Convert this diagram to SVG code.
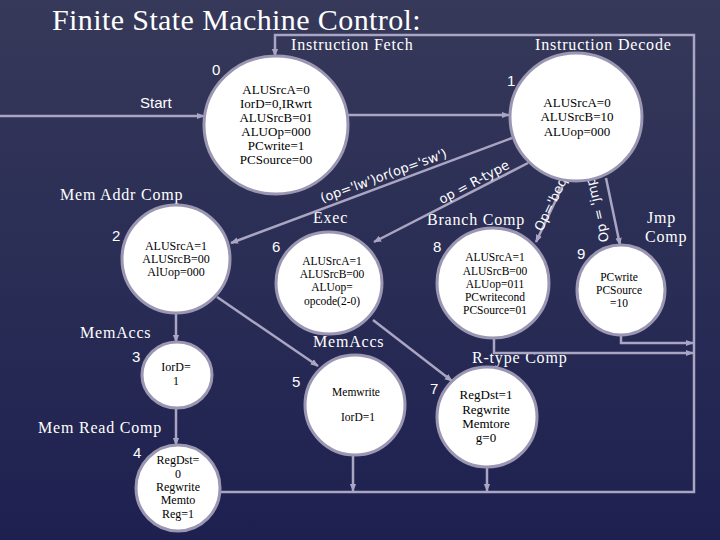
<svg xmlns="http://www.w3.org/2000/svg" width="720" height="540" viewBox="0 0 720 540">
<defs>
<linearGradient id="bg" x1="0" y1="0" x2="0" y2="1">
<stop offset="0" stop-color="#363959"/>
<stop offset="1" stop-color="#1e2150"/>
</linearGradient>
<marker id="arr" viewBox="0 0 10 10" refX="9" refY="5" markerWidth="8" markerHeight="8" markerUnits="userSpaceOnUse" orient="auto">
<path d="M0,1 L10,5 L0,9 Z" fill="#a9a5c2"/>
</marker>
<style>
.st{fill:#ffffff;stroke:#9b97b3;stroke-width:3}
.c{fill:none;stroke:#a9a5c2;stroke-width:2.5;marker-end:url(#arr)}
.t{font-family:"Liberation Serif",serif;fill:#000;text-anchor:middle}
.lbl{font-family:"Liberation Serif",serif;font-size:16px;letter-spacing:0.8px;fill:#fff}
.num{font-family:"Liberation Sans",sans-serif;font-size:15px;fill:#fff}
.cond{font-family:"DejaVu Sans",sans-serif;font-size:13px;fill:#fff}
</style>
</defs>
<rect width="720" height="540" fill="url(#bg)"/>
<text x="52" y="30" font-family="Liberation Serif, serif" font-size="30" letter-spacing="0.4" fill="#fff">Finite State Machine Control:</text>
<text class="lbl" x="291" y="50" font-size="15">Instruction Fetch</text>
<text class="lbl" x="535" y="50" font-size="15">Instruction Decode</text>
<text class="num" x="140" y="108">Start</text>
<text class="lbl" x="60" y="200">Mem Addr Comp</text>
<text class="lbl" x="313" y="223">Exec</text>
<text class="lbl" x="427" y="225">Branch Comp</text>
<text class="lbl" x="647" y="223">Jmp</text>
<text class="lbl" x="645" y="242">Comp</text>
<text class="lbl" x="80" y="338">MemAccs</text>
<text class="lbl" x="313" y="347">MemAccs</text>
<text class="lbl" x="472" y="363">R-type Comp</text>
<text class="lbl" x="38" y="433">Mem Read Comp</text>

<g id="connectors">
<path class="c" d="M0,116 H204"/>
<path class="c" d="M221,492 H694 V35 H275 V56"/>
<path class="c" d="M348,115 H509"/>
<path class="c" d="M512,138 L231,243"/>
<path class="c" d="M528,163 L374,242"/>
<path class="c" d="M563,185 L536,242"/>
<path class="c" d="M606,178 L620,245"/>
<path class="c" d="M176,313 V342"/>
<path class="c" d="M176,408 V445"/>
<path class="c" d="M217,297 L318,366"/>
<path class="c" d="M373,320 L452,381"/>
<path class="c" d="M353,455 V491"/>
<path class="c" d="M487,467 V491"/>
<path class="c" d="M494,338 V353 H693"/>
<path class="c" d="M621,335 V343 H693"/>
<text class="cond" x="385" y="180" text-anchor="middle" transform="rotate(-20 385 180)">(op='lw')or(op='sw')</text>
<text class="cond" x="476" y="186" text-anchor="middle" transform="rotate(-28 476 186)">op = R-type</text>
<text class="cond" x="542" y="232" transform="rotate(-64 542 232)">Op='beq</text>
<text class="cond" x="609" y="241" transform="rotate(-103 609 241)">Op = 'jmp'</text>
</g>

<g id="s0">
<ellipse class="st" cx="276" cy="125" rx="72" ry="69"/>
<text class="num" x="212" y="75">0</text>
<text class="t" font-size="13"><tspan x="276" y="94">ALUSrcA=0</tspan><tspan x="276" y="108">IorD=0,IRwrt</tspan><tspan x="276" y="122">ALUSrcB=01</tspan><tspan x="276" y="136">ALUOp=000</tspan><tspan x="276" y="150">PCwrite=1</tspan><tspan x="276" y="164">PCSource=00</tspan></text>
</g>
<g id="s1">
<ellipse class="st" cx="576" cy="117" rx="66" ry="64"/>
<text class="num" x="507" y="86">1</text>
<text class="t" font-size="13"><tspan x="577" y="107">ALUSrcA=0</tspan><tspan x="577" y="121">ALUSrcB=10</tspan><tspan x="577" y="136">ALUop=000</tspan></text>
</g>
<g id="s2">
<ellipse class="st" cx="176" cy="259" rx="54" ry="54"/>
<text class="num" x="112" y="241">2</text>
<text class="t" font-size="12"><tspan x="176" y="250">ALUSrcA=1</tspan><tspan x="176" y="263">ALUSrcB=00</tspan><tspan x="176" y="276">AlUop=000</tspan></text>
</g>
<g id="s3">
<ellipse class="st" cx="177" cy="375" rx="35" ry="33"/>
<text class="num" x="132" y="362">3</text>
<text class="t" font-size="12"><tspan x="176" y="371">IorD=</tspan><tspan x="176" y="385">1</tspan></text>
</g>
<g id="s4">
<ellipse class="st" cx="178" cy="488" rx="42" ry="43"/>
<text class="num" x="133" y="458">4</text>
<text class="t" font-size="12"><tspan x="178" y="464">RegDst=</tspan><tspan x="178" y="478">0</tspan><tspan x="178" y="491">Regwrite</tspan><tspan x="178" y="504">Memto</tspan><tspan x="178" y="518">Reg=1</tspan></text>
</g>
<g id="s5">
<ellipse class="st" cx="355" cy="405" rx="50" ry="50"/>
<text class="num" x="292" y="387">5</text>
<text class="t" font-size="11.5"><tspan x="356" y="396">Memwrite</tspan><tspan x="358" y="421">IorD=1</tspan></text>
</g>
<g id="s6">
<ellipse class="st" cx="329" cy="283" rx="53" ry="51"/>
<text class="num" x="272" y="252">6</text>
<text class="t" font-size="11.5"><tspan x="332" y="265">ALUSrcA=1</tspan><tspan x="332" y="278">ALUSrcB=00</tspan><tspan x="332" y="291">ALUop=</tspan><tspan x="332" y="304.5">opcode(2-0)</tspan></text>
</g>
<g id="s7">
<ellipse class="st" cx="487" cy="417" rx="50" ry="50"/>
<text class="num" x="430" y="394">7</text>
<text class="t" font-size="13"><tspan x="486" y="399">RegDst=1</tspan><tspan x="486" y="414">Regwrite</tspan><tspan x="486" y="428">Memtore</tspan><tspan x="486" y="442">g=0</tspan></text>
</g>
<g id="s8">
<ellipse class="st" cx="493" cy="283" rx="56" ry="55"/>
<text class="num" x="433" y="252">8</text>
<text class="t" font-size="11.5"><tspan x="495" y="261">ALUSrcA=1</tspan><tspan x="495" y="275">ALUSrcB=00</tspan><tspan x="495" y="288">ALUop=011</tspan><tspan x="495" y="301">PCwritecond</tspan><tspan x="495" y="314">PCSource=01</tspan></text>
</g>
<g id="s9">
<ellipse class="st" cx="621" cy="290" rx="44" ry="45"/>
<text class="num" x="577" y="259">9</text>
<text class="t" font-size="11.5"><tspan x="619" y="281">PCwrite</tspan><tspan x="619" y="294">PCSource</tspan><tspan x="619" y="307">=10</tspan></text>
</g>
</svg>
